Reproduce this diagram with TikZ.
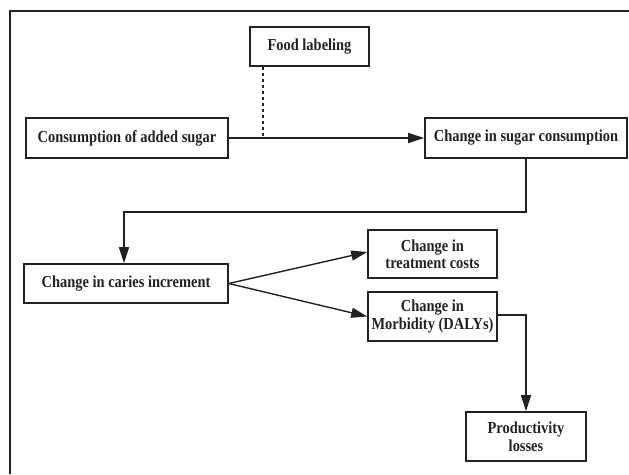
\documentclass[tikz,border=0pt]{standalone}
\usepackage{fontspec}
\setmainfont{Liberation Serif}
\newfontfamily\condserif[FakeStretch=0.86]{Liberation Serif}
\usetikzlibrary{arrows.meta}
\definecolor{ink}{HTML}{222222}
\begin{document}
\begin{tikzpicture}[x=1pt,y=-1pt,
  boxnode/.style={draw=ink, line width=1.6pt, rectangle, inner sep=0pt, align=center,
    text=ink, font=\condserif\fontsize{16.8}{17.5}\selectfont\bfseries},
  conn/.style={draw=ink, line width=1.4pt},
  arr/.style={conn, -{Triangle[length=16pt,width=10pt]}},
  dashconn/.style={draw=ink, line width=1.4pt, dash pattern=on 3.5pt off 2.5pt}
]
\useasboundingbox (0,0) rectangle (629,474);
% frame (cropped)
\draw[ink, line width=1.2pt] (10,474) -- (10,11) -- (629,11);

\node[boxnode, minimum width=119pt, minimum height=39pt] (food) at (309.5,46.5) {Food labeling};
\node[boxnode, minimum width=202pt, minimum height=40pt] (cons) at (127,138) {Consumption of added sugar};
\node[boxnode, minimum width=202pt, minimum height=40pt] (sugar) at (526,138) {Change in sugar consumption};
\node[boxnode, minimum width=204pt, minimum height=39pt] (caries) at (126,283.5) {Change in caries increment};
\node[boxnode, minimum width=129pt, minimum height=48pt] (treat) at (432.5,254) {Change in\\treatment costs};
\node[boxnode, minimum width=129pt, minimum height=49pt] (morb) at (432.5,316.5) {Change in\\Morbidity (DALYs)};
\node[boxnode, minimum width=120pt, minimum height=49pt] (prod) at (526,436.5) {Productivity\\losses};

\coordinate (join) at (263,138);
\coordinate (bend) at (124,212);

\draw[arr] (cons.east) -- (sugar.west);
\draw[dashconn] (food.south -| join) -- (join);
\draw[arr] (sugar.south) -- (sugar.south |- bend) -- (bend) -- (caries.north -| bend);
\draw[arr] (caries.east) -- ([yshift=2pt]treat.west);
\draw[arr] (caries.east) -- (morb.west);
\draw[arr] ([yshift=1.5pt]morb.east) -| (prod.north);
\end{tikzpicture}
\end{document}
